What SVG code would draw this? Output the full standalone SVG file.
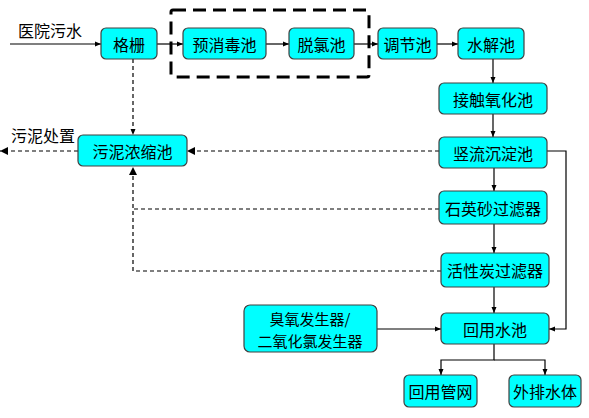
<svg xmlns="http://www.w3.org/2000/svg" width="589" height="418" viewBox="0 0 589 418">
<style>
.box{fill:#00FFFF;stroke:#404040;stroke-width:1.2}
.t{font-family:"Noto Sans CJK SC","Liberation Sans",sans-serif;font-size:16px;fill:#000;text-anchor:middle;dominant-baseline:central}
.s{fill:none;stroke:#000;stroke-width:1.2}
.d{fill:none;stroke:#000;stroke-width:1.2;stroke-dasharray:4 3}
</style>
<defs>
<marker id="a" markerUnits="userSpaceOnUse" markerWidth="7" markerHeight="6" refX="6" refY="3" orient="auto"><path d="M0,0.5 L6,3 L0,5.5 z" fill="#000"/></marker>
<marker id="b" markerUnits="userSpaceOnUse" markerWidth="9" markerHeight="8" refX="8" refY="4" orient="auto"><path d="M0,0 L8,4 L0,8 z" fill="#000"/></marker>
</defs>
<rect x="171" y="10" width="198" height="67" rx="2" fill="none" stroke="#000" stroke-width="3" stroke-dasharray="13 7"/>
<g id="connectors">
<line class="s" x1="10" y1="44" x2="101" y2="44" marker-end="url(#a)"/>
<line class="s" x1="157" y1="44" x2="183" y2="44" marker-end="url(#a)"/>
<line class="s" x1="266" y1="44" x2="289" y2="44" marker-end="url(#a)"/>
<line class="s" x1="354" y1="44" x2="378" y2="44" marker-end="url(#a)"/>
<line class="s" x1="437" y1="44" x2="458" y2="44" marker-end="url(#a)"/>
<line class="s" x1="493" y1="59" x2="493" y2="83" marker-end="url(#a)"/>
<line class="s" x1="493" y1="114" x2="493" y2="137" marker-end="url(#a)"/>
<line class="s" x1="494" y1="168" x2="494" y2="191" marker-end="url(#a)"/>
<line class="s" x1="494" y1="224" x2="494" y2="253" marker-end="url(#a)"/>
<line class="s" x1="494" y1="287" x2="494" y2="313" marker-end="url(#a)"/>
<polyline class="s" points="547,151 566,151 566,329 549,329" marker-end="url(#a)"/>
<line class="s" x1="377" y1="329" x2="441" y2="329" marker-end="url(#a)"/>
<polyline class="s" points="494,344 494,360 441,360 441,375" marker-end="url(#a)"/>
<polyline class="s" points="494,360 545,360 545,375" marker-end="url(#a)"/>
<line class="d" x1="133" y1="59" x2="133" y2="135" marker-end="url(#a)"/>
<line class="d" x1="439" y1="151" x2="187" y2="151" marker-end="url(#b)"/>
<line class="d" x1="78" y1="151" x2="0" y2="151" marker-end="url(#b)"/>
<polyline class="d" points="439,209 133,209"/>
<polyline class="d" points="441,271 133,271 133,167" marker-end="url(#b)"/>
</g>
<g id="label-input"><text class="t" x="50" y="30">医院污水</text></g>
<g id="label-sludge"><text class="t" x="43" y="135">污泥处置</text></g>
<g id="n-gezha"><rect class="box" x="101" y="28" width="56" height="31" rx="5"/><text class="t" x="129" y="44">格栅</text></g>
<g id="n-yuxiaodu"><rect class="box" x="183" y="28" width="83" height="31" rx="5"/><text class="t" x="224.5" y="44">预消毒池</text></g>
<g id="n-tuolv"><rect class="box" x="289" y="28" width="65" height="31" rx="5"/><text class="t" x="321.5" y="44">脱氯池</text></g>
<g id="n-tiaojie"><rect class="box" x="378" y="28" width="59" height="31" rx="5"/><text class="t" x="407.5" y="44">调节池</text></g>
<g id="n-shuijie"><rect class="box" x="458" y="28" width="66" height="31" rx="5"/><text class="t" x="491" y="44">水解池</text></g>
<g id="n-jiechu"><rect class="box" x="439" y="83" width="108" height="31" rx="5"/><text class="t" x="493" y="99">接触氧化池</text></g>
<g id="n-shuliu"><rect class="box" x="439" y="137" width="108" height="31" rx="5"/><text class="t" x="493" y="153">竖流沉淀池</text></g>
<g id="n-wuni"><rect class="box" x="78" y="135" width="109" height="31" rx="5"/><text class="t" x="132.5" y="151">污泥浓缩池</text></g>
<g id="n-shiying"><rect class="box" x="439" y="191" width="108" height="33" rx="5"/><text class="t" x="493" y="208">石英砂过滤器</text></g>
<g id="n-huoxing"><rect class="box" x="441" y="253" width="108" height="34" rx="5"/><text class="t" x="495" y="270">活性炭过滤器</text></g>
<g id="n-chouyang"><rect class="box" x="244" y="305" width="133" height="47" rx="6"/><text class="t" x="310" y="318" style="font-size:15px">臭氧发生器/</text><text class="t" x="310" y="340" style="font-size:15px">二氧化氯发生器</text></g>
<g id="n-huiyongshui"><rect class="box" x="441" y="313" width="108" height="31" rx="5"/><text class="t" x="495" y="329">回用水池</text></g>
<g id="n-huiyongguan"><rect class="box" x="404" y="375" width="73" height="32" rx="5"/><text class="t" x="440.5" y="391">回用管网</text></g>
<g id="n-waipai"><rect class="box" x="509" y="375" width="72" height="32" rx="5"/><text class="t" x="545" y="391">外排水体</text></g>
</svg>
